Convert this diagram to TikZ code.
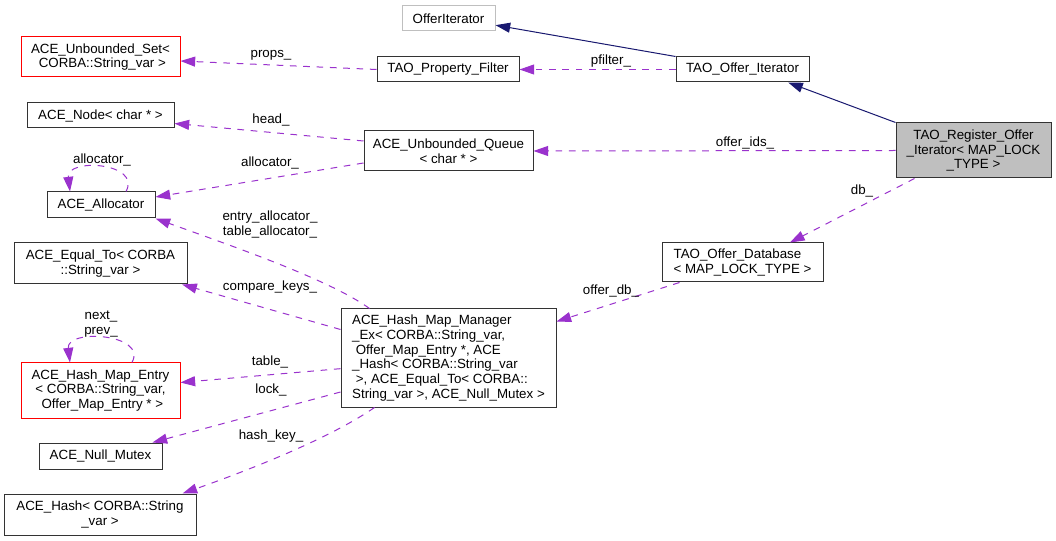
\documentclass[tikz,border=0pt]{standalone}
\usepackage{fontspec}
\setmainfont{Liberation Sans}
\usetikzlibrary{arrows.meta}
\definecolor{orchid}{HTML}{9A32CD}
\definecolor{navy}{HTML}{191970}
\definecolor{grey75}{HTML}{BFBFBF}
\tikzstyle{cls}=[draw=black!80,line width=.75pt,inner sep=0pt,align=center,
  font=\fontsize{10}{11.1}\selectfont]
\tikzstyle{lbl}=[inner sep=0pt,align=center,font=\fontsize{10}{11.1}\selectfont]
\tikzstyle{usage}=[->,draw=orchid,line width=.75pt,
  dash pattern=on 5pt off 5pt]
\tikzstyle{inherit}=[->,draw=navy,line width=.75pt]

\begin{document}
\begin{tikzpicture}[x=.75pt, y=-.75pt, >={Triangle[length=11pt,width=7.5pt]}]
  \fill[white] (0,0) rectangle (1056,541);

  \node[cls, draw=grey75, minimum width=69.75pt, minimum height=18.75pt] (off) at (448.5,18.5) {OfferIterator};
  \node[cls, draw=red, minimum width=119.25pt, minimum height=30pt] (uset) at (100.5,57) {ACE\_Unbounded\_Set<\\\ CORBA::String\_var >};
  \node[cls, minimum width=106.5pt, minimum height=18.75pt] (pfilt) at (448,69.5) {TAO\_Property\_Filter};
  \node[cls, minimum width=99.75pt, minimum height=18.75pt] (oit) at (742.5,69.5) {TAO\_Offer\_Iterator};
  \node[cls, minimum width=110.25pt, minimum height=18.75pt] (anode) at (100.5,115.5) {ACE\_Node< char * >};
  \node[cls, minimum width=126.75pt, minimum height=30pt] (uqueue) at (448.5,151) {ACE\_Unbounded\_Queue\\< char * >};
  \node[cls, fill=grey75, minimum width=116.25pt, minimum height=41.25pt] (reg) at (973.5,150.5) {TAO\_Register\_Offer\\\_Iterator< MAP\_LOCK\\\_TYPE >};
  \node[cls, minimum width=81pt, minimum height=19.5pt] (alloc) at (101,205) {ACE\_Allocator};
  \node[cls, align=left, minimum width=120.75pt, minimum height=29.25pt] (odb) at (742.5,262.5) {TAO\_Offer\_Database\\< MAP\_LOCK\_TYPE >};
  \node[cls, minimum width=129.75pt, minimum height=30.75pt] (eq) at (100.5,263.5) {ACE\_Equal\_To< CORBA\\::String\_var >};
  \node[cls, align=left, minimum width=161.25pt, minimum height=73.5pt] (hmm) at (448.5,358) {ACE\_Hash\_Map\_Manager\\\_Ex< CORBA::String\_var,\\\ Offer\_Map\_Entry *, ACE\\\_Hash< CORBA::String\_var\\\ >, ACE\_Equal\_To< CORBA::\\String\_var >, ACE\_Null\_Mutex >};
  \node[cls, draw=red, minimum width=119.25pt, minimum height=41.25pt] (hme) at (100.5,390.5) {ACE\_Hash\_Map\_Entry\\< CORBA::String\_var,\\\ Offer\_Map\_Entry * >};
  \node[cls, minimum width=92.25pt, minimum height=19.5pt] (nmut) at (100.5,456) {ACE\_Null\_Mutex};
  \node[cls, minimum width=144pt, minimum height=30.75pt] (ahash) at (100,514.5) {ACE\_Hash< CORBA::String\\\_var >};

  % base classes
  \draw[inherit] (oit.north west) -- ([yshift=-5pt]off.east);
  \draw[inherit] (reg.north west) -- ([xshift=-16pt]oit.south east);

  % members
  \draw[usage] (pfilt.west) -- ([yshift=-3pt]uset.east);
  \draw[usage] (oit.west) -- (pfilt.east);
  \draw[usage] ([yshift=7.5pt]uqueue.west) -- ([yshift=-6pt]anode.east);
  \draw[usage] ([yshift=-9pt]uqueue.west) -- ([yshift=6pt]alloc.east);
  \draw[usage] ([xshift=18.75pt]alloc.north) .. controls +(16,-29) and +(-4,-34) .. ([xshift=-23.25pt]alloc.north);
  \draw[usage] (reg.west) -- (uqueue.east);
  \draw[usage] ([xshift=14.25pt]reg.south west) -- ([xshift=35.6pt]odb.north);
  \draw[usage] ([xshift=13.5pt]odb.south west) -- ([yshift=-9.75pt]hmm.north east);
  \draw[usage] ([xshift=21.75pt]hmm.north west) .. controls +(-40,-29) and +(75,27) .. (alloc.south east);
  \draw[usage] ([yshift=-15.75pt]hmm.north west) -- ([xshift=-4pt]eq.south east);
  \draw[usage] ([yshift=-8pt]hmm.west) -- ([yshift=6pt]hme.east);
  \draw[usage] ([yshift=-25.5pt]hmm.west) -- ([xshift=-7.5pt]nmut.north east);
  \draw[usage] ([xshift=25.5pt]hmm.south west) .. controls +(-45,31) and +(68,-24) .. ([xshift=-10.5pt]ahash.north east);
  \draw[usage] ([xshift=23.6pt]hme.north) .. controls +(16,-29) and +(-4,-34) .. ([xshift=-22.9pt]hme.north);

  \node[lbl] (lprops) at (271,55) {props\_};
  \node[lbl] (lpfilt) at (611,61) {pfilter\_};
  \node[lbl] (lhead) at (271,120) {head\_};
  \node[lbl] (lalloc) at (270,163) {allocator\_};
  \node[lbl] (lself) at (102,160) {allocator\_};
  \node[lbl] (lids) at (745,143) {offer\_ids\_};
  \node[lbl] (ldb) at (862,191) {db\_};
  \node[lbl] (lentry) at (270,224.5) {entry\_allocator\_\\table\_allocator\_};
  \node[lbl] (lcmp) at (270,287) {compare\_keys\_};
  \node[lbl] (lodb) at (611,291) {offer\_db\_};
  \node[lbl] (lnext) at (101,324) {next\_\\prev\_};
  \node[lbl] (ltable) at (270,362) {table\_};
  \node[lbl] (llock) at (271,390) {lock\_};
  \node[lbl] (lhash) at (271,436) {hash\_key\_};
\end{tikzpicture}
\end{document}
